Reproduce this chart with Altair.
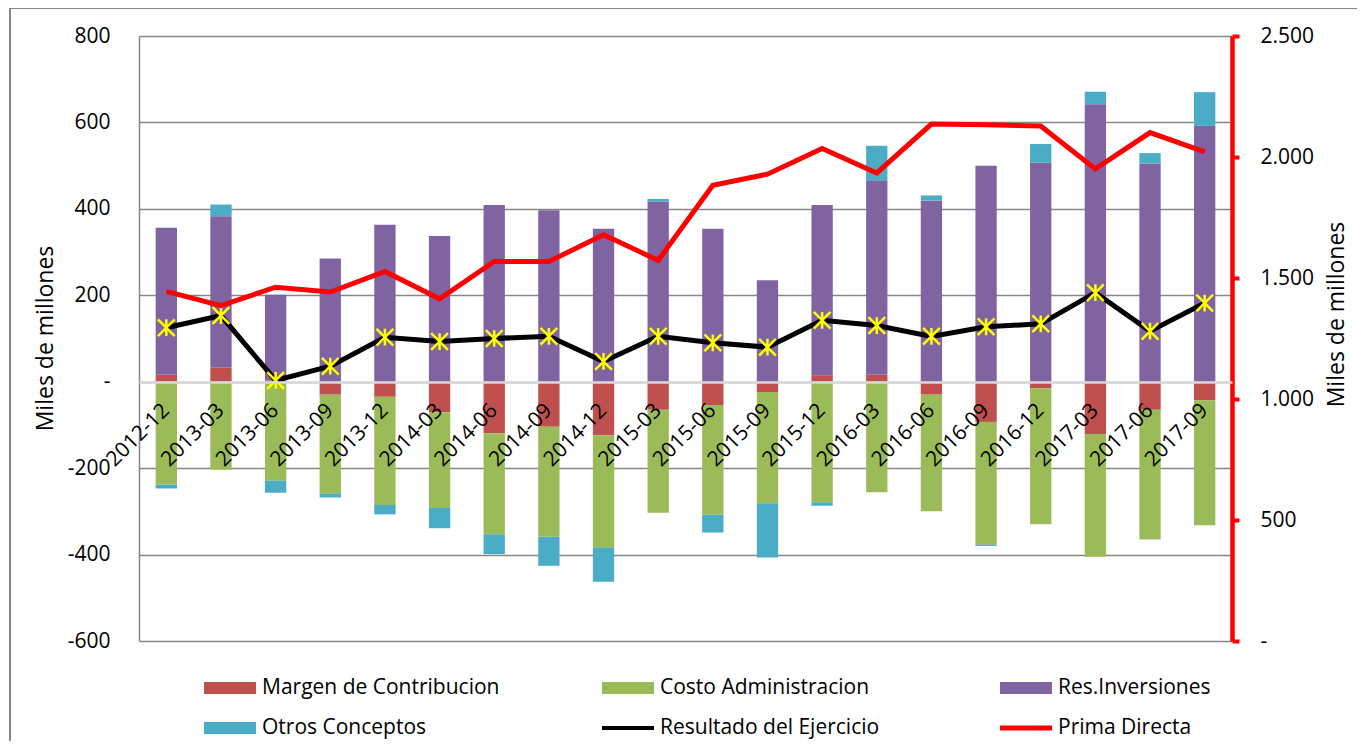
import altair as alt
import pandas as pd

periods = ["2012-12", "2013-03", "2013-06", "2013-09", "2013-12", "2014-03", "2014-06",
           "2014-09", "2014-12", "2015-03", "2015-06", "2015-09", "2015-12", "2016-03",
           "2016-06", "2016-09", "2016-12", "2017-03", "2017-06", "2017-09"]
margen = [16, 33, 3, -30, -35, -71, -119, -104, -124, -65, -54, -24, 15, 16, -30, -93, -15, -121, -65, -43]
costo = [-238, -204, -229, -229, -250, -221, -234, -255, -260, -238, -254, -257, -279, -256, -270, -284, -315, -284, -300, -289]
res_inv = [340, 350, 198, 285, 363, 337, 409, 397, 354, 417, 354, 235, 394, 450, 419, 500, 507, 642, 505, 592]
otros = [-9, 27, -28, -9, -22, -47, -46, -67, -79, 6, -41, -126, -8, 80, 12, -3, 43, 29, 24, 78]
resultado = [125, 153, 3, 36, 103, 93, 100, 105, 47, 105, 90, 80, 142, 130, 105, 127, 134, 206, 117, 182]
prima = [1445, 1386, 1462, 1442, 1527, 1414, 1568, 1568, 1679, 1573, 1883, 1929, 2035, 1934, 2136, 2133, 2128, 1951, 2101, 2021]

series_names = ["Margen de Contribucion", "Costo Administracion", "Res.Inversiones",
                "Otros Conceptos", "Resultado del Ejercicio", "Prima Directa"]
series_colors = ["#C0504D", "#9BBB59", "#8064A2", "#4BACC6", "#000000", "#FF0000"]
left_ticks = [-600, -400, -200, 0, 200, 400, 600, 800]
right_ticks = [0, 500, 1000, 1500, 2000, 2500]

rows = []
for i, p in enumerate(periods):
    for k, (name, vals) in enumerate(zip(series_names[:4], [margen, costo, res_inv, otros])):
        rows.append({"periodo": p, "serie": name, "valor": vals[i], "orden": k})
bars_df = pd.DataFrame(rows)
lines_df = pd.DataFrame({"periodo": periods, "resultado": resultado, "prima": prima})

FONT = "Open Sans"
W, H = 1093, 605
GRID = "#868686"

x_enc = alt.X(
    "periodo:N", sort=periods,
    scale=alt.Scale(paddingInner=0.61, paddingOuter=0.305),
    axis=alt.Axis(title=None, orient="bottom", offset=-259, labelAngle=315,
                  labelAlign="right", labelBaseline="middle", labelPadding=25,
                  ticks=False, domainColor="#d9d9d9", domainWidth=2.5,
                  labelFont=FONT, labelFontSize=21, labelColor="black",
                  labelOverlap=False, grid=False, zindex=1),
)

legend = alt.Legend(
    title=None, orient="none", legendX=65, legendY=626, columns=3, direction="horizontal",
    columnPadding=102, rowPadding=4, gridAlign="all", padding=0,
    symbolType={"expr": "datum.value == 'Resultado del Ejercicio' ? 'M-1,-0.08H1V0.08H-1Z' : "
                        "(datum.value == 'Prima Directa' ? 'M-1,-0.1H1V0.1H-1Z' : 'M-1,-0.23H1V0.23H-1Z')"},
    symbolSize=2704, symbolStrokeWidth=0, labelFont=FONT, labelFontSize=21,
    labelColor="black", labelOffset=6, labelLimit=400,
)

left_scale = alt.Scale(domain=[-600, 800], nice=False, zero=False)

left_axis = alt.Axis(orient="left", title="Miles de millones", values=left_ticks,
                     labelExpr="datum.value == 0 ? '-' : '' + datum.value",
                     ticks=False, labelPadding=29, domainColor=GRID, domainWidth=1.5,
                     gridColor=GRID, gridWidth=1.5, grid=True,
                     labelFont=FONT, labelFontSize=21, labelColor="black",
                     titleFont=FONT, titleFontSize=23, titleFontWeight="normal",
                     titleColor="black", titleX=-94, titleY=302,
                     titleAlign="center", titleBaseline="middle")

frame = alt.Chart(pd.DataFrame({"k": [0]})).mark_rect(
    fill="transparent", stroke=GRID, strokeWidth=2
).encode(
    x=alt.value(-129), x2=alt.value(1400), y=alt.value(-28), y2=alt.value(900)
)

bars = alt.Chart(bars_df).mark_bar().encode(
    x=x_enc,
    y=alt.Y("valor:Q", stack="zero", scale=left_scale, axis=left_axis),
    color=alt.Color("serie:N", scale=alt.Scale(domain=series_names, range=series_colors),
                    legend=legend),
    order=alt.Order("orden:Q", sort="ascending"),
)

res_line = alt.Chart(lines_df).mark_line(color="black", strokeWidth=5).encode(
    x=x_enc,
    y=alt.Y("resultado:Q", scale=left_scale, axis=left_axis),
)
res_points = alt.Chart(lines_df).mark_point(
    shape="M-1,-1L1,1M-1,1L1,-1M0,-1L0,1", size=280, strokeWidth=2.5,
    color="#FFFF00", filled=False, opacity=1,
).encode(
    x=x_enc,
    y=alt.Y("resultado:Q", scale=left_scale, axis=left_axis),
)

prima_line = alt.Chart(lines_df).mark_line(color="#FF0000", strokeWidth=5).encode(
    x=x_enc,
    y=alt.Y("prima:Q", scale=alt.Scale(domain=[0, 2500], nice=False),
            axis=alt.Axis(orient="right", title="Miles de millones", values=right_ticks,
                          labelExpr="datum.value == 0 ? '-' : replace(format(datum.value, ','), ',', '.')",
                          domainColor="#FF0000", domainWidth=4.5,
                          tickColor="#FF0000", tickWidth=4, tickSize=7, labelPadding=21,
                          grid=False, labelFont=FONT, labelFontSize=21, labelColor="black",
                          titleFont=FONT, titleFontSize=23, titleFontWeight="normal",
                          titleColor="black", titleAngle=270, titleX=104, titleY=278,
                          titleAlign="center", titleBaseline="middle")),
)

left = alt.layer(frame, bars, res_line, res_points)
chart = alt.layer(left, prima_line).resolve_scale(y="independent").properties(
    width=W, height=H,
    autosize=alt.AutoSizeParams(type="none"),
    padding={"left": 131, "top": 28, "right": 125, "bottom": 100},
).configure(background="white", view=alt.ViewConfig(stroke="transparent"))

chart.save("out.html", embed_options={"renderer": "svg", "actions": False})
